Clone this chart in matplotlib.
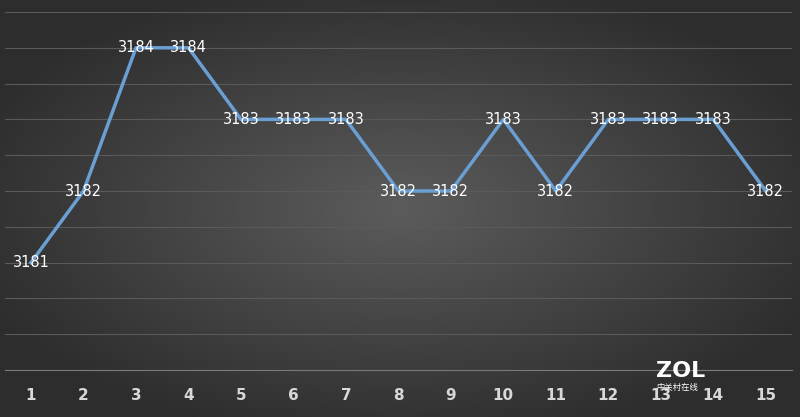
import matplotlib
matplotlib.use("Agg")
import matplotlib.pyplot as plt
import numpy as np

categories = [str(i) for i in range(1, 16)]
scores = [3181, 3182, 3184, 3184, 3183, 3183, 3183, 3182, 3182, 3183, 3182, 3183, 3183, 3183, 3182]

fig = plt.figure(figsize=(8.0, 4.17), dpi=100)

# radial gradient background
bg = fig.add_axes([0, 0, 1, 1])
yy, xx = np.mgrid[-1:1:200j, -1:1:400j]
r = np.sqrt(xx ** 2 + yy ** 2)
shade = np.clip(0.36 - 0.16 * r, 0.18, 0.36)
bg.imshow(np.dstack([shade, shade, shade]), aspect="auto", extent=[0, 1, 0, 1])
bg.axis("off")

ax = fig.add_axes([0.006, 1 - 370 / 417, 0.984, (370 - 12) / 417])
ax.patch.set_alpha(0)
x = np.arange(1, 16)
ax.plot(x, scores, color="#6a9fd4", lw=2.5, zorder=3)
for xi, v in zip(x, scores):
    ax.text(xi, v, str(v), ha="center", va="center", color="white", fontsize=10.5, zorder=4)

ax.set_xlim(0.5, 15.5)
ax.set_ylim(3179.5, 3184.5)
ax.set_yticks(np.arange(3179.5, 3184.51, 0.5))
ax.set_yticklabels([])
ax.grid(True, axis="y", color="#5a5a5a", lw=0.8)
ax.set_xticks(x)
ax.set_xticklabels(categories, color="#d8d8d8", fontsize=11, fontweight="bold")
ax.tick_params(length=0, pad=13)
for s in ["top", "right", "left"]:
    ax.spines[s].set_visible(False)
ax.spines["bottom"].set_color("#7a7a7a")

fig.text(0.82, 0.095, "ZOL", color="white", fontsize=16, fontweight="bold", ha="left")
fig.text(0.82, 0.065, "中关村在线", color="white", fontsize=6,
         family=["Noto Sans CJK SC", "DejaVu Sans"], ha="left")

fig.savefig("out.png", dpi=100)
